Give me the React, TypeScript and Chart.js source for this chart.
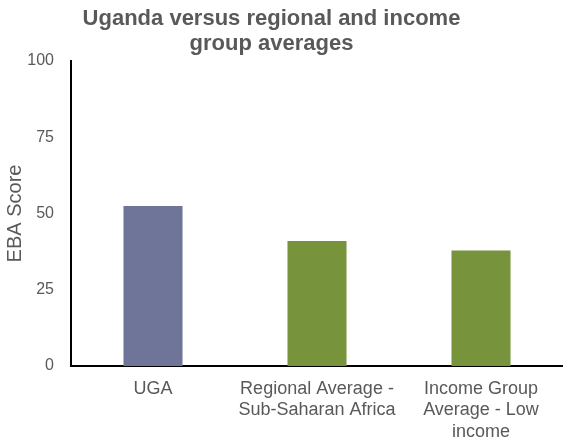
import React, { useEffect, useRef } from "react";
import { Chart, registerables } from "chart.js";

Chart.register(...registerables);

const categories: (string | string[])[] = [
  "UGA",
  ["Regional Average -", "Sub-Saharan Africa"],
  ["Income Group", "Average - Low", "income"],
];
const scores = [52.5, 41.0, 37.9];
const barColors = ["#6f7599", "#77933c", "#77933c"];
const yTicks = [0, 25, 50, 75, 100];
const titleLines = ["Uganda versus regional and income", "group averages"];
const yTitle = "EBA Score";

const FONT = "Liberation Sans, Arial, sans-serif";

const titlePlugin = {
  id: "customTitle",
  afterDraw(chart: any) {
    const ctx = chart.ctx;
    ctx.save();
    ctx.fillStyle = "#595959";
    ctx.font = `bold 22px ${FONT}`;
    ctx.textAlign = "center";
    ctx.textBaseline = "alphabetic";
    const cx = chart.width / 2 - 10;
    titleLines.forEach((line, i) => {
      ctx.fillText(line, cx, 25 + i * 25);
    });
    ctx.restore();
  },
};

export default function App() {
  const ref = useRef<HTMLCanvasElement | null>(null);
  useEffect(() => {
    if (!ref.current) return;
    const chart = new Chart(ref.current, {
      type: "bar",
      data: {
        labels: categories,
        datasets: [
          {
            data: scores,
            backgroundColor: barColors,
            categoryPercentage: 1,
            barPercentage: 0.36,
          },
        ],
      },
      plugins: [titlePlugin],
      options: {
        animation: false,
        responsive: false,
        maintainAspectRatio: false,
        layout: { padding: { left: 0, right: 0, top: 61, bottom: 0 } },
        plugins: {
          legend: { display: false },
          tooltip: { enabled: false },
          title: { display: false },
        },
        scales: {
          x: {
            grid: { display: false, drawTicks: false },
            border: { display: true, color: "#000000", width: 2 },
            afterFit: (scale: any) => {
              scale.height = 73;
            },
            ticks: {
              color: "#595959",
              font: { family: FONT, size: 18, lineHeight: 1.2 },
              padding: 12,
              maxRotation: 0,
              autoSkip: false,
            },
          },
          y: {
            min: 0,
            max: 100,
            afterBuildTicks: (axis: any) => {
              axis.ticks = yTicks.map((v) => ({ value: v }));
            },
            afterFit: (scale: any) => {
              scale.width = 71;
            },
            grid: { display: false, drawTicks: false },
            border: { display: true, color: "#000000", width: 2 },
            ticks: {
              color: "#595959",
              font: { family: FONT, size: 16 },
              padding: 17,
            },
            title: {
              display: true,
              text: yTitle,
              color: "#595959",
              font: { family: FONT, size: 20, lineHeight: 1.2 },
              padding: { top: 3, bottom: 1 },
            },
          },
        },
      },
    });
    return () => chart.destroy();
  }, []);
  return (
    <div style={{ position: "fixed", left: 0, top: 0, width: 563, height: 439, background: "#fff" }}>
      <canvas ref={ref} width={563} height={439} style={{ width: 563, height: 439 }} />
    </div>
  );
}
